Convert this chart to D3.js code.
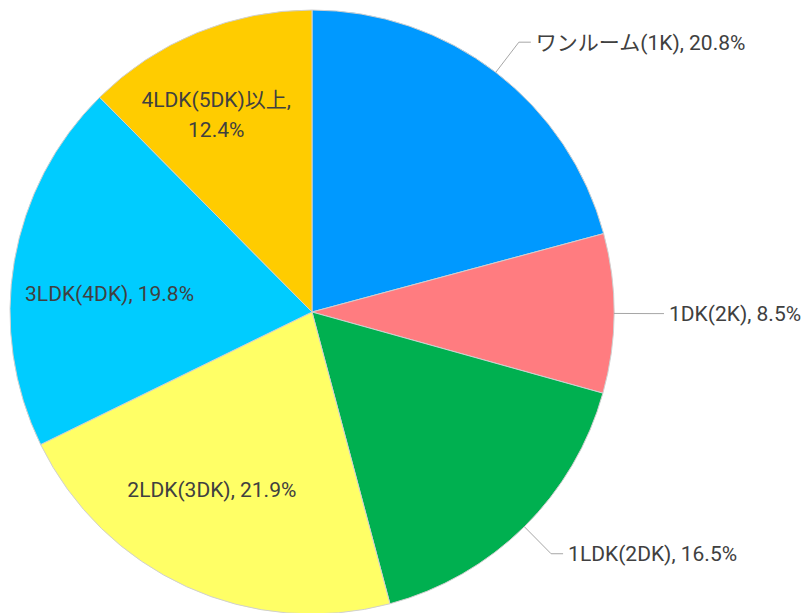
<!DOCTYPE html>
<html>
<head>
<meta charset="utf-8">
<script src="https://cdn.jsdelivr.net/npm/d3@7"></script>
<style>
  body { margin: 0; background: #fff; }
  text { font-family: Roboto, "Noto Sans CJK JP", sans-serif; font-size: 21px; letter-spacing: 0px; fill: #404040; }
</style>
</head>
<body>
<div class="chart"></div>
<script>
var svgWidth = 807;
var svgHeight = 613;

// data
var categories = ["ワンルーム(1K)", "1DK(2K)", "1LDK(2DK)", "2LDK(3DK)", "3LDK(4DK)", "4LDK(5DK)以上"];
var shares = [20.8, 8.5, 16.5, 21.9, 19.8, 12.4];
var colors = ["#0099FF", "#FF7C80", "#00B050", "#FFFF66", "#00CCFF", "#FFCC00"];
var outside = [true, true, true, false, false, false];
// small nudges for the inside labels
var labelNudge = [[0, 0], [0, 0], [0, 0], [-15, -9], [0, 16], [-12, 7]];

var cx = 312, cy = 312, radius = 302;

var svg = d3.select(".chart")
  .append("svg")
  .attr("width", svgWidth)
  .attr("height", svgHeight);

var chartGroup = svg.append("g")
  .attr("transform", `translate(${cx}, ${cy})`);

var pie = d3.pie().sort(null).value(d => d);
var arcs = pie(shares);

var arc = d3.arc().innerRadius(0).outerRadius(radius);

chartGroup.selectAll("path")
  .data(arcs)
  .enter()
  .append("path")
  .attr("d", arc)
  .attr("fill", (d, i) => colors[i])
  .attr("stroke", "#d0d0d0")
  .attr("stroke-width", 1);

function pt(a, r) {
  return [r * Math.sin(a), -r * Math.cos(a)];
}

arcs.forEach(function (d, i) {
  var mid = (d.startAngle + d.endAngle) / 2;
  var label = categories[i] + ", " + shares[i].toFixed(1) + "%";
  if (outside[i]) {
    // leader line: edge -> elbow -> short horizontal
    var p0 = pt(mid, radius);
    var p1 = pt(mid, radius + 38);
    var p2 = [p1[0] + 12, p1[1]];
    chartGroup.append("polyline")
      .attr("points", [p0, p1, p2].map(p => p.join(",")).join(" "))
      .attr("fill", "none")
      .attr("stroke", "#a6a6a6")
      .attr("stroke-width", 1);
    chartGroup.append("text")
      .attr("x", p2[0] + 5)
      .attr("y", p2[1])
      .attr("dy", "0.35em")
      .text(label);
  } else {
    var rr = i == 5 ? radius * 0.73 : radius * 0.68;
    var c = pt(mid, rr);
    c[0] += labelNudge[i][0];
    c[1] += labelNudge[i][1];
    if (i == 5) {
      chartGroup.append("text")
        .attr("x", c[0]).attr("y", c[1] - 15)
        .attr("dy", "0.35em")
        .attr("text-anchor", "middle")
        .text(categories[i] + ",");
      chartGroup.append("text")
        .attr("x", c[0]).attr("y", c[1] + 15)
        .attr("dy", "0.35em")
        .attr("text-anchor", "middle")
        .text(shares[i].toFixed(1) + "%");
    } else {
      chartGroup.append("text")
        .attr("x", c[0])
        .attr("y", c[1])
        .attr("dy", "0.35em")
        .attr("text-anchor", "middle")
        .text(label);
    }
  }
});
</script>
</body>
</html>
